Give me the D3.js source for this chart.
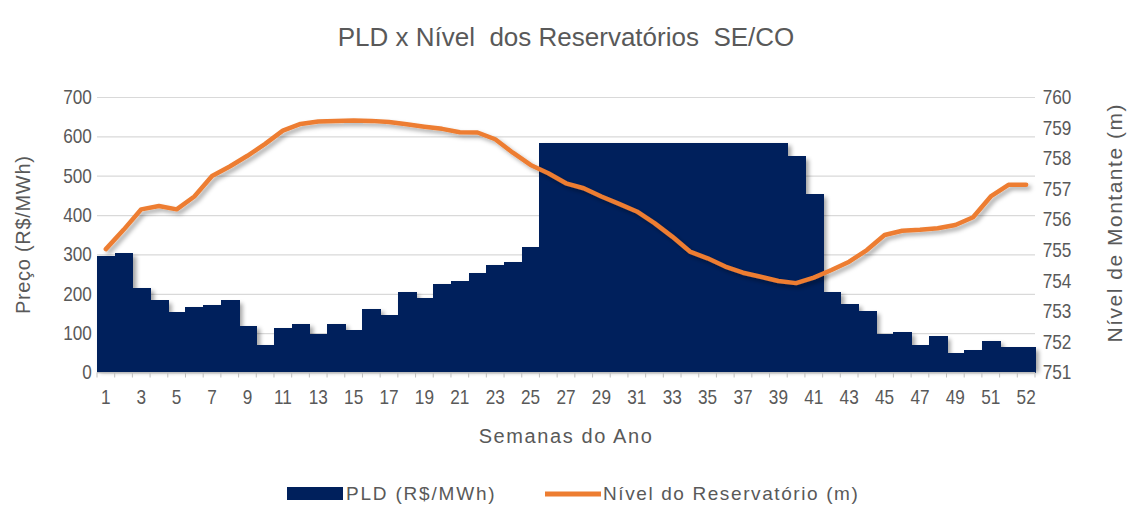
<!DOCTYPE html>
<html>
<head>
<meta charset="utf-8">
<script src="https://cdn.jsdelivr.net/npm/d3@7"></script>
<style>
  body { margin: 0; background: #fff; }
  text { font-family: "Liberation Sans", Arial, sans-serif; fill: #595959; white-space: pre; }
</style>
</head>
<body>
<div id="chart"></div>
<script>
// Semanas (53 categorias; a ultima etiqueta exibida e "52")
const semanas = [1, 2, 3, 4, 5, 6, 7, 8, 9, 10, 11, 12, 13, 14, 15, 16, 17, 18, 19, 20,
  21, 22, 23, 24, 25, 26, 27, 28, 29, 30, 31, 32, 33, 34, 35, 36, 37, 38, 39, 40,
  41, 42, 43, 44, 45, 46, 47, 48, 49, 50, 51, 52, 53];

// PLD semanal (R$/MWh)
const pld = [297, 303, 215, 183, 153, 167, 172, 183, 119, 71, 113, 124, 98, 124, 107, 162, 145, 205, 190, 226,
  232, 253, 274, 281, 318, 583.88, 583.88, 583.88, 583.88, 583.88, 583.88, 583.88, 583.88, 583.88, 583.88, 583.88,
  583.88, 583.88, 583.88, 549, 453, 205, 174, 156, 99, 102, 70, 92, 49.77, 56, 81, 64, 64];

// Nivel do reservatorio (m)
const nivel = [755.03, 755.66, 756.33, 756.44, 756.33, 756.75, 757.42, 757.73, 758.08, 758.47, 758.9, 759.12,
  759.2, 759.22, 759.23, 759.22, 759.18, 759.11, 759.03, 758.96, 758.85, 758.84, 758.62, 758.18, 757.78,
  757.51, 757.18, 757.02, 756.75, 756.51, 756.26, 755.88, 755.44, 754.95, 754.73, 754.46, 754.26, 754.13,
  753.99, 753.92, 754.1, 754.35, 754.62, 755.0, 755.49, 755.63, 755.66, 755.71, 755.82, 756.07, 756.75,
  757.13, 757.13];

// Etiquetas do eixo X (uma a cada duas semanas)
const xTickLabels = ["1", "3", "5", "7", "9", "11", "13", "15", "17", "19", "21", "23", "25", "27", "29",
  "31", "33", "35", "37", "39", "41", "43", "45", "47", "49", "51", "52"];

const leftTicks = [0, 100, 200, 300, 400, 500, 600, 700];
const rightTicks = [751, 752, 753, 754, 755, 756, 757, 758, 759, 760];

// Chart setup
let svgWidth = 1129;
let svgHeight = 507;

let margin = { top: 97, right: 94, bottom: 134.5, left: 97 };
let width = svgWidth - margin.left - margin.right;
let height = svgHeight - margin.top - margin.bottom;

// tick labels in the picture use a narrow face
let narrow = "scale(0.86,1)";

let svg = d3.select("#chart")
  .append("svg")
  .attr("width", svgWidth)
  .attr("height", svgHeight);

// soft shadows like the excel ones
let defs = svg.append("defs");
let shadow = defs.append("filter").attr("id", "shadow")
  .attr("x", "-5%").attr("y", "-5%").attr("width", "115%").attr("height", "120%");
shadow.append("feDropShadow")
  .attr("dx", 3).attr("dy", 3).attr("stdDeviation", 2.2)
  .attr("flood-color", "#000").attr("flood-opacity", 0.33);

defs.append("filter").attr("id", "blur")
  .attr("x", "-5%").attr("y", "-5%").attr("width", "115%").attr("height", "120%")
  .append("feGaussianBlur").attr("stdDeviation", 2.2);

let chartGroup = svg.append("g")
  .attr("transform", `translate(${margin.left}, ${margin.top})`);

// Scales
let xBandScale = d3.scaleBand()
  .domain(semanas)
  .range([0, width])
  .padding(0);

let yLeftScale = d3.scaleLinear()
  .domain([0, 700])
  .range([height, 0]);

let yRightScale = d3.scaleLinear()
  .domain([751, 760])
  .range([height, 0]);

// Gridlines + left labels
let leftAxis = d3.axisLeft(yLeftScale)
  .tickValues(leftTicks)
  .tickSize(-width)
  .tickPadding(6);

let gLeft = chartGroup.append("g").call(leftAxis);
gLeft.select(".domain").remove();
gLeft.selectAll("line").attr("stroke", "#d9d9d9").attr("stroke-width", 1.2);
gLeft.selectAll("text")
  .attr("font-size", 20)
  .attr("transform", narrow)
  .style("fill", "#595959");

// Bar shadow (blurred copy, offset)
chartGroup.append("g")
  .attr("transform", "translate(3,3)")
  .attr("filter", "url(#blur)")
  .attr("opacity", 0.35)
  .selectAll("rect")
  .data(pld)
  .enter()
  .append("rect")
  .attr("x", (d, i) => xBandScale(semanas[i]))
  .attr("y", d => yLeftScale(d))
  .attr("width", xBandScale.bandwidth() + 1)
  .attr("height", d => height - yLeftScale(d) - 3)
  .attr("fill", "#000");

// Bars
chartGroup.append("g")
  .selectAll("rect")
  .data(pld)
  .enter()
  .append("rect")
  .attr("x", (d, i) => xBandScale(semanas[i]))
  .attr("y", d => yLeftScale(d))
  .attr("width", xBandScale.bandwidth() + 1)
  .attr("height", d => height - yLeftScale(d))
  .attr("shape-rendering", "crispEdges")
  .attr("fill", "#00205c");

// Category tick marks at band boundaries
let boundaries = semanas.map(s => xBandScale(s)).concat([width]);
chartGroup.append("g")
  .selectAll("line")
  .data(boundaries)
  .enter()
  .append("line")
  .attr("x1", d => d).attr("x2", d => d)
  .attr("y1", height).attr("y2", height + 5)
  .attr("stroke", "#bfbfbf");

chartGroup.append("line")
  .attr("x1", 0).attr("x2", width)
  .attr("y1", height).attr("y2", height)
  .attr("stroke", "#bfbfbf");

// X labels
let labelIndex = d3.range(0, semanas.length, 2);
let bottomAxis = d3.axisBottom(xBandScale)
  .tickValues(labelIndex.map(i => semanas[i]))
  .tickFormat((d, i) => xTickLabels[i])
  .tickSize(0)
  .tickPadding(17);

let gBottom = chartGroup.append("g")
  .attr("transform", `translate(0, ${height})`)
  .call(bottomAxis);
gBottom.select(".domain").remove();
gBottom.selectAll("text")
  .attr("font-size", 20)
  .attr("transform", narrow)
  .style("fill", "#595959");

// Right axis
let rightAxis = d3.axisRight(yRightScale)
  .tickValues(rightTicks)
  .tickSize(0)
  .tickPadding(9);

let gRight = chartGroup.append("g")
  .attr("transform", `translate(${width}, 0)`)
  .call(rightAxis);
gRight.select(".domain").remove();
gRight.selectAll("text")
  .attr("font-size", 20)
  .attr("transform", narrow)
  .style("fill", "#595959");

// Line
let line = d3.line()
  .x((d, i) => xBandScale(semanas[i]) + xBandScale.bandwidth() / 2)
  .y(d => yRightScale(d));

chartGroup.append("path")
  .datum(nivel)
  .attr("d", line)
  .attr("fill", "none")
  .attr("stroke", "#ed7d31")
  .attr("stroke-width", 4.5)
  .attr("stroke-linejoin", "round")
  .attr("stroke-linecap", "round")
  .attr("filter", "url(#shadow)");

// Titles
svg.append("text")
  .attr("x", margin.left + width / 2)
  .attr("y", 46)
  .attr("text-anchor", "middle")
  .attr("font-size", 26)
  .text("PLD x Nível  dos Reservatórios  SE/CO");

svg.append("text")
  .attr("x", margin.left + width / 2)
  .attr("y", 443)
  .attr("text-anchor", "middle")
  .attr("font-size", 20)
  .attr("letter-spacing", 1.6)
  .text("Semanas do Ano");

svg.append("text")
  .attr("transform", `translate(30, ${margin.top + height / 2}) rotate(-90)`)
  .attr("text-anchor", "middle")
  .attr("font-size", 20)
  .attr("letter-spacing", 0.7)
  .text("Preço (R$/MWh)");

svg.append("text")
  .attr("transform", `translate(1122, ${margin.top + height / 2 - 12}) rotate(-90)`)
  .attr("text-anchor", "middle")
  .attr("font-size", 21)
  .attr("letter-spacing", 1.5)
  .text("Nível de Montante (m)");

// Legend
let legend = svg.append("g");
legend.append("rect")
  .attr("x", 287).attr("y", 487)
  .attr("width", 56).attr("height", 13)
  .attr("fill", "#00205c");
legend.append("text")
  .attr("x", 346).attr("y", 500)
  .attr("font-size", 19)
  .attr("letter-spacing", 1.8)
  .text("PLD (R$/MWh)");
legend.append("line")
  .attr("x1", 545).attr("x2", 601)
  .attr("y1", 494).attr("y2", 494)
  .attr("stroke", "#ed7d31")
  .attr("stroke-width", 5);
legend.append("text")
  .attr("x", 603).attr("y", 500)
  .attr("font-size", 19)
  .attr("letter-spacing", 1.6)
  .text("Nível do Reservatório (m)");
</script>
</body>
</html>
